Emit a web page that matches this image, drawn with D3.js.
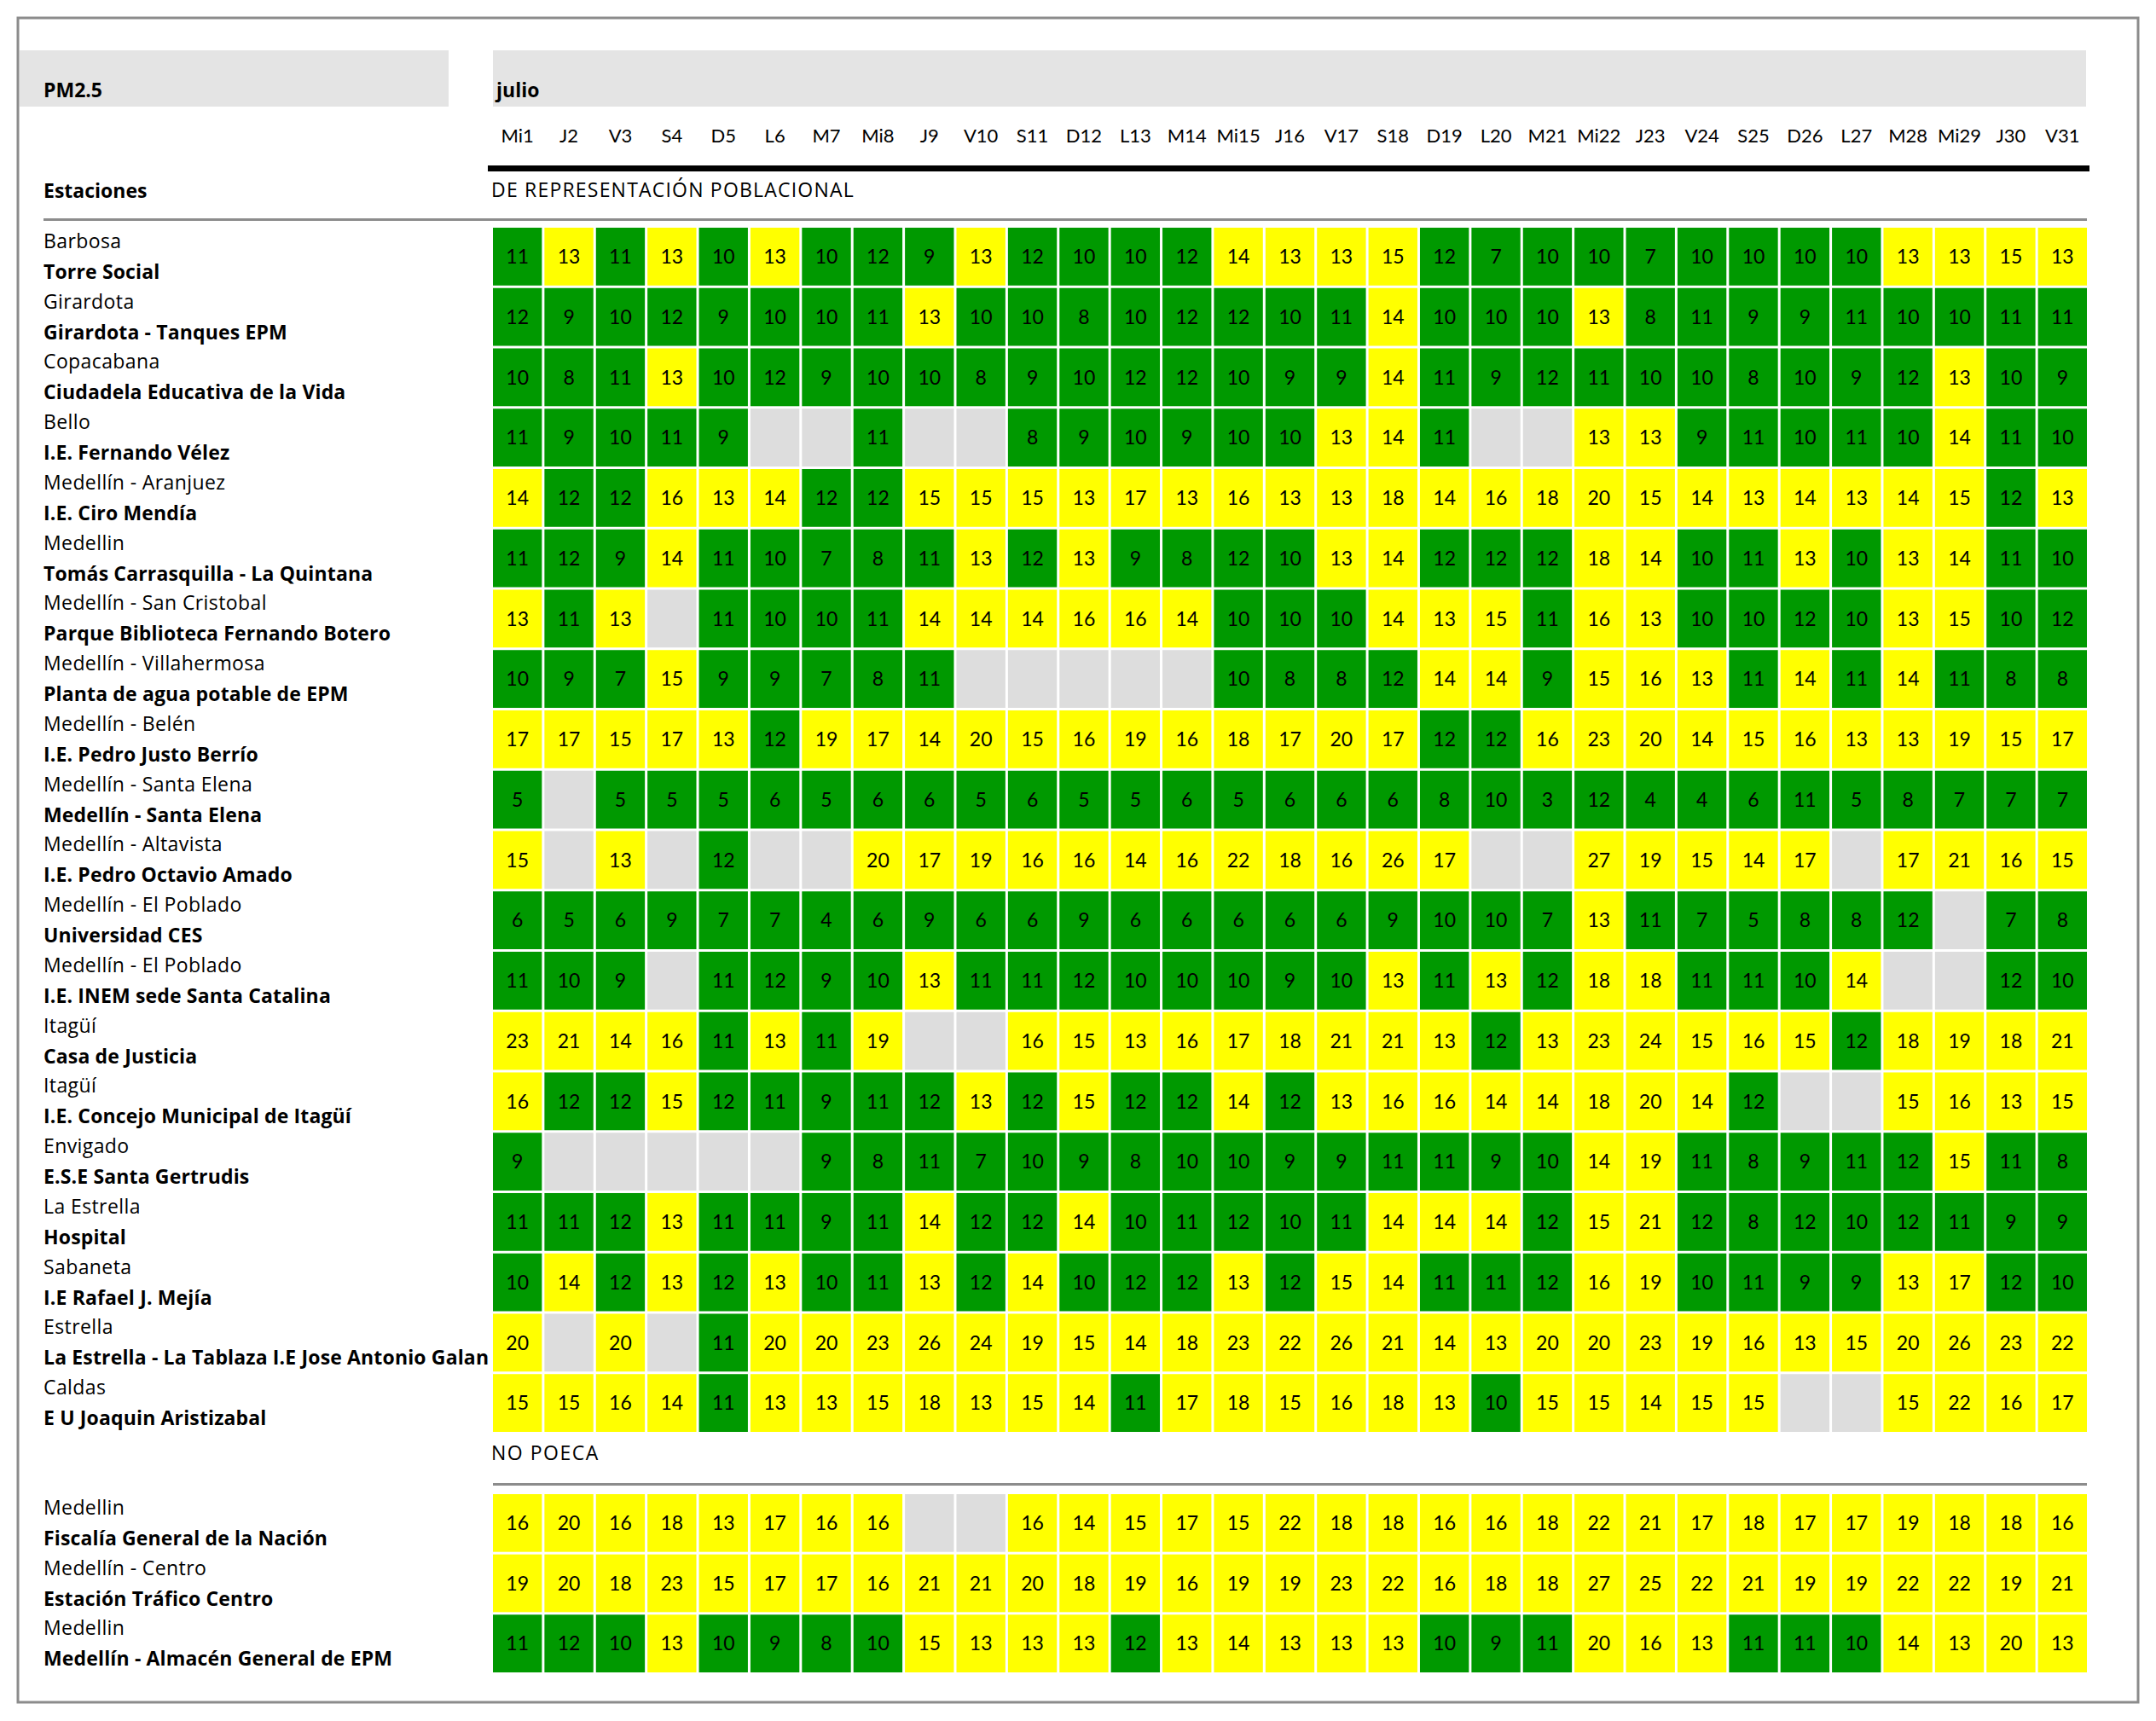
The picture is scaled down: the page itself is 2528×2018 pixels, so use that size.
<!DOCTYPE html>
<html>
<head>
<meta charset="utf-8">
<script src="https://cdn.jsdelivr.net/npm/d3@7"></script>
<style>
  body { margin: 0; background: #fff; }
  text { font-family: Lato, "Noto Sans", sans-serif; fill: #000; }
  text.lbl { font-family: "Open Sans", Lato, sans-serif; }
</style>
</head>
<body>
<div id="chart"></div>
<script>
const days = ["Mi1","J2","V3","S4","D5","L6","M7","Mi8","J9","V10","S11","D12","L13","M14","Mi15",
  "J16","V17","S18","D19","L20","M21","Mi22","J23","V24","S25","D26","L27","M28","Mi29","J30","V31"];

// Estaciones de representación poblacional
const municipios = ["Barbosa","Girardota","Copacabana","Bello","Medellín - Aranjuez","Medellin",
  "Medellín - San Cristobal","Medellín - Villahermosa","Medellín - Belén","Medellín - Santa Elena",
  "Medellín - Altavista","Medellín - El Poblado","Medellín - El Poblado","Itagüí","Itagüí","Envigado",
  "La Estrella","Sabaneta","Estrella","Caldas"];
const estaciones = ["Torre Social","Girardota - Tanques EPM","Ciudadela Educativa de la Vida",
  "I.E. Fernando Vélez","I.E. Ciro Mendía","Tomás Carrasquilla - La Quintana",
  "Parque Biblioteca Fernando Botero","Planta de agua potable de EPM","I.E. Pedro Justo Berrío",
  "Medellín - Santa Elena","I.E. Pedro Octavio Amado","Universidad CES","I.E. INEM sede Santa Catalina",
  "Casa de Justicia","I.E. Concejo Municipal de Itagüí","E.S.E Santa Gertrudis","Hospital",
  "I.E Rafael J. Mejía","La Estrella - La Tablaza I.E Jose Antonio Galan","E U Joaquin Aristizabal"];

const n = null;
const pm25 = [
  [11,13,11,13,10,13,10,12,9,13,12,10,10,12,14,13,13,15,12,7,10,10,7,10,10,10,10,13,13,15,13],
  [12,9,10,12,9,10,10,11,13,10,10,8,10,12,12,10,11,14,10,10,10,13,8,11,9,9,11,10,10,11,11],
  [10,8,11,13,10,12,9,10,10,8,9,10,12,12,10,9,9,14,11,9,12,11,10,10,8,10,9,12,13,10,9],
  [11,9,10,11,9,n,n,11,n,n,8,9,10,9,10,10,13,14,11,n,n,13,13,9,11,10,11,10,14,11,10],
  [14,12,12,16,13,14,12,12,15,15,15,13,17,13,16,13,13,18,14,16,18,20,15,14,13,14,13,14,15,12,13],
  [11,12,9,14,11,10,7,8,11,13,12,13,9,8,12,10,13,14,12,12,12,18,14,10,11,13,10,13,14,11,10],
  [13,11,13,n,11,10,10,11,14,14,14,16,16,14,10,10,10,14,13,15,11,16,13,10,10,12,10,13,15,10,12],
  [10,9,7,15,9,9,7,8,11,n,n,n,n,n,10,8,8,12,14,14,9,15,16,13,11,14,11,14,11,8,8],
  [17,17,15,17,13,12,19,17,14,20,15,16,19,16,18,17,20,17,12,12,16,23,20,14,15,16,13,13,19,15,17],
  [5,n,5,5,5,6,5,6,6,5,6,5,5,6,5,6,6,6,8,10,3,12,4,4,6,11,5,8,7,7,7],
  [15,n,13,n,12,n,n,20,17,19,16,16,14,16,22,18,16,26,17,n,n,27,19,15,14,17,n,17,21,16,15],
  [6,5,6,9,7,7,4,6,9,6,6,9,6,6,6,6,6,9,10,10,7,13,11,7,5,8,8,12,n,7,8],
  [11,10,9,n,11,12,9,10,13,11,11,12,10,10,10,9,10,13,11,13,12,18,18,11,11,10,14,n,n,12,10],
  [23,21,14,16,11,13,11,19,n,n,16,15,13,16,17,18,21,21,13,12,13,23,24,15,16,15,12,18,19,18,21],
  [16,12,12,15,12,11,9,11,12,13,12,15,12,12,14,12,13,16,16,14,14,18,20,14,12,n,n,15,16,13,15],
  [9,n,n,n,n,n,9,8,11,7,10,9,8,10,10,9,9,11,11,9,10,14,19,11,8,9,11,12,15,11,8],
  [11,11,12,13,11,11,9,11,14,12,12,14,10,11,12,10,11,14,14,14,12,15,21,12,8,12,10,12,11,9,9],
  [10,14,12,13,12,13,10,11,13,12,14,10,12,12,13,12,15,14,11,11,12,16,19,10,11,9,9,13,17,12,10],
  [20,n,20,n,11,20,20,23,26,24,19,15,14,18,23,22,26,21,14,13,20,20,23,19,16,13,15,20,26,23,22],
  [15,15,16,14,11,13,13,15,18,13,15,14,11,17,18,15,16,18,13,10,15,15,14,15,15,n,n,15,22,16,17]
];

// Estaciones NO POECA
const municipiosNoPoeca = ["Medellin","Medellín - Centro","Medellin"];
const estacionesNoPoeca = ["Fiscalía General de la Nación","Estación Tráfico Centro","Medellín - Almacén General de EPM"];
const pm25NoPoeca = [
  [16,20,16,18,13,17,16,16,n,n,16,14,15,17,15,22,18,18,16,16,18,22,21,17,18,17,17,19,18,18,16],
  [19,20,18,23,15,17,17,16,21,21,20,18,19,16,19,19,23,22,16,18,18,27,25,22,21,19,19,22,22,19,21],
  [11,12,10,13,10,9,8,10,15,13,13,13,12,13,14,13,13,13,10,9,11,20,16,13,11,11,10,14,13,20,13]
];

const width = 2528;
const height = 2018;

const svg = d3.select("#chart")
  .append("svg")
  .attr("width", width)
  .attr("height", height);

// marco
svg.append("rect")
  .attr("x", 21).attr("y", 21)
  .attr("width", 2486).attr("height", 1975)
  .attr("fill", "none")
  .attr("stroke", "#8c8c8c")
  .attr("stroke-width", 3);

// cabecera gris
svg.append("rect").attr("x", 23).attr("y", 59).attr("width", 503).attr("height", 66).attr("fill", "#e4e4e4");
svg.append("rect").attr("x", 578).attr("y", 59).attr("width", 1868).attr("height", 66).attr("fill", "#e4e4e4");

svg.append("text").attr("class", "lbl").attr("x", 51).attr("y", 114)
  .attr("font-size", 23).attr("font-weight", 700).text("PM2.5");
svg.append("text").attr("class", "lbl").attr("x", 582).attr("y", 114)
  .attr("font-size", 23).attr("font-weight", 700).text("julio");

const x = d3.scaleBand()
  .domain(days)
  .range([578, 2447])
  .paddingInner(0.05);

const color = d3.scaleThreshold()
  .domain([13])
  .range(["#009900", "#ffff00"]);

// días
svg.append("g")
  .selectAll("text")
  .data(days)
  .join("text")
  .attr("x", d => x(d) + x.bandwidth() / 2)
  .attr("y", 167)
  .attr("text-anchor", "middle")
  .attr("font-size", 22)
  .text(d => d);

svg.append("rect").attr("x", 572).attr("y", 194).attr("width", 1878).attr("height", 7).attr("fill", "#000");

svg.append("text").attr("class", "lbl").attr("x", 51).attr("y", 232)
  .attr("font-size", 23).attr("font-weight", 700).text("Estaciones");
svg.append("text").attr("class", "lbl").attr("x", 576).attr("y", 231)
  .attr("font-size", 23).attr("letter-spacing", 1.2).text("DE REPRESENTACIÓN POBLACIONAL");

svg.append("rect").attr("x", 51).attr("y", 256).attr("width", 2396).attr("height", 3).attr("fill", "#8c8c8c");

function drawGroup(rows, munis, names, y0, y1) {
  const y = d3.scaleBand()
    .domain(d3.range(rows.length))
    .range([y0, y1])
    .paddingInner(0.042);

  const g = svg.append("g");

  const row = g.selectAll("g.row")
    .data(rows.map((vals, i) => ({ i, vals })))
    .join("g")
    .attr("class", "row");

  row.append("text")
    .attr("class", "lbl")
    .attr("x", 51)
    .attr("y", d => y(d.i) + 24)
    .attr("font-size", 23)
    .attr("letter-spacing", 0.4)
    .text(d => munis[d.i]);

  row.append("text")
    .attr("class", "lbl")
    .attr("x", 51)
    .attr("y", d => y(d.i) + 60)
    .attr("font-size", 23)
    .attr("font-weight", 700)
    .attr("letter-spacing", 0.15)
    .text(d => names[d.i]);

  const cells = row.selectAll("g.cell")
    .data(d => d.vals.map((v, j) => ({ v, day: days[j], i: d.i })))
    .join("g")
    .attr("class", "cell");

  cells.append("rect")
    .attr("x", d => x(d.day))
    .attr("y", d => y(d.i))
    .attr("width", x.bandwidth())
    .attr("height", y.bandwidth())
    .attr("fill", d => d.v == null ? "#dddddd" : color(d.v));

  cells.filter(d => d.v != null)
    .append("text")
    .attr("x", d => x(d.day) + x.bandwidth() / 2)
    .attr("y", d => y(d.i) + y.bandwidth() / 2)
    .attr("dy", "0.36em")
    .attr("text-anchor", "middle")
    .attr("font-size", 23)
    .text(d => d.v);
}

drawGroup(pm25, municipios, estaciones, 267, 1679);

svg.append("text").attr("class", "lbl").attr("x", 576).attr("y", 1712)
  .attr("font-size", 23).attr("letter-spacing", 1.5).text("NO POECA");
svg.append("rect").attr("x", 578).attr("y", 1739).attr("width", 1869).attr("height", 3).attr("fill", "#8c8c8c");

drawGroup(pm25NoPoeca, municipiosNoPoeca, estacionesNoPoeca, 1752, 1961);
</script>
</body>
</html>
